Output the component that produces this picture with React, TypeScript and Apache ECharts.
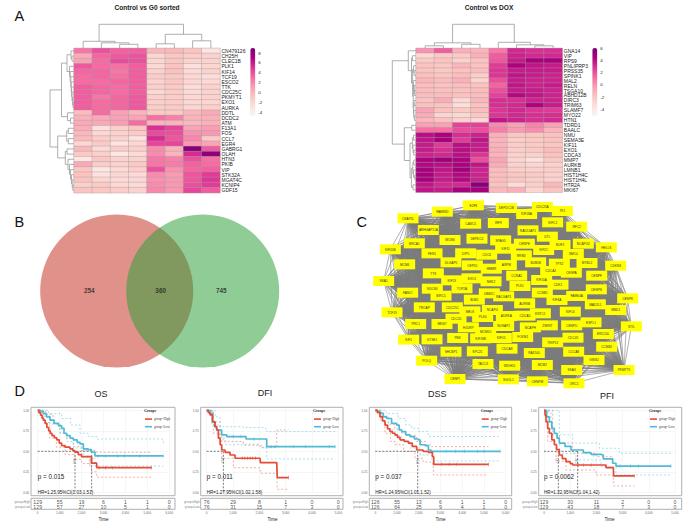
import React, { useEffect, useRef } from "react";
import * as echarts from "echarts";

const SANS = "Liberation Sans";
const SERIF = "Liberation Serif";
const RdPu = ["#FFF7F3", "#FDE0DD", "#FCC5C0", "#FA9FB5", "#F768A1", "#DD3497", "#AE017E", "#7A0177"];

const heat1Genes = ["CN479126","CH25H","CLEC1B","PLK1","KIF14","TCF19","ESCO2","TTK","CDC25C","PKMYT1","EXO1","AURKA","DDTL","DCDC2","ATM","F13A1","FOS","CCL7","EGR4","GABRG1","OLAH","HTN3","PKIB","VIP","STK32A","MGAT4C","KCNIP4","GDF15"];
const heat1Values = [
  [2.6,4,3.4,3.4,-0.2,-0.2,-0.8,-3.2],
  [0.5,3.2,3.7,3.9,-2,-1,-1.4,-1.8],
  [1,3,4.2,4,-2,-1,-1.8,-1.8],
  [3.7,3,2.8,3.5,-2.3,-0.8,-2.8,-2],
  [3.2,3.2,2.6,3.5,-1.8,-0.6,-2.4,-1.8],
  [3,3.2,2.8,3.5,-1.4,-1.2,-2.2,-2.6],
  [3,3,3.2,3.5,-1.8,-1,-2.2,-2.4],
  [3.5,3.2,3,3.5,-1.6,-1.2,-2.6,-1.8],
  [3.5,3.2,3,3.5,-2.2,-1.4,-2.4,-1.8],
  [3.5,2.6,3.2,3.7,-1.6,-1.4,-2.2,-1.8],
  [3.5,3,3.2,3.7,-1.6,-1.4,-2.2,-2],
  [3.5,3,3.2,3.7,-1.4,-1.2,-2,-1.6],
  [-0.4,3,1,0,-1.2,-1.2,-0.2,0.6],
  [0.2,0.6,1,0.8,2.8,2.2,0,0.2],
  [0.6,0.6,1.2,3,0,0,-0.2,0.2],
  [0.4,-2.8,-1.6,-0.8,5.2,4.4,0.8,1.2],
  [-0.2,-2.2,-1.8,-1.2,4.2,4,1.6,1.4],
  [-0.4,-1.4,-1.8,-3,5.4,3.8,2,-1.2],
  [-2.2,-1.2,-3,-2,4.4,4.4,1.4,0.8],
  [-0.2,-2.4,-1.4,-1.6,1.8,0.2,8.6,3.6],
  [-1.2,-1.6,-3.4,-2.4,1.8,0,5.4,8.4],
  [-3.4,-1,-1.8,-1.8,2.6,2.2,4,2.8],
  [0.6,-1.4,-1.8,-1.2,2.6,2.4,3.4,3],
  [-1,-3.4,-2.4,-1.6,4,1.6,3.2,3.4],
  [-0.8,-3,-2.2,-2.4,1.8,1.2,3.8,4.8],
  [-0.8,-2,-2.4,-2.2,1.6,1.4,3.8,5],
  [-1.6,-1.2,-2.2,-2.4,1.8,1.4,4,4.8],
  [-0.8,-1,-1.4,-1.8,2,1.4,4.4,3.6],
];
const heat2Genes = ["GNA14","VIP","RPS9","PNLIPRP3","PRSS35","SPINK1","MAL2","RELN","TSGA10","ABHD12B","DIRC3","TRIM63","SLAMF7","MYO22","HTN1","TDRD1","BAALC","NMU","SEMA3E","KIF11","EXO1","CDCA3","MMP7","AURKB","LMNB1","HIST1H4C","HIST1H4L","HTR2A","MKI67"];
const heat2Values = [
  [0,1.6,-1,-1.2,0.8,3.2,3,3],
  [-3,-2.2,-2.2,-1,1.6,3.4,3.2,3.2],
  [-2.2,-1.9,-2.6,-1.8,1.8,3.6,4.6,4.6],
  [-1.9,-2,-1.2,-1.8,2.6,4.4,3.8,3.6],
  [-1.9,-2.2,-1.8,-1.6,2.8,3.6,3.6,3.6],
  [-1.7,-2,-1.6,-2.4,2.8,3.8,3.6,3.4],
  [-1.3,-1.6,-1,-2.8,2,3.6,3.4,3.4],
  [-1.6,-1.8,-1.6,-1.8,1.4,3.8,3.4,3.6],
  [-1.6,-1.7,-1.8,-1.6,2,3.6,3.6,3.4],
  [-1.6,-1.6,-1.8,-1.6,2.4,4.2,3.8,3.4],
  [-1.9,-0.9,-3,-1.4,3,3,3.4,3.4],
  [-1.8,-1.9,-3.4,-1.8,3,3.2,4.4,3.6],
  [-0.6,-1.8,-2.2,-1.6,2.8,3.2,2.8,2.6],
  [-0.8,-2.8,-3,-2,2.8,3.2,3,3],
  [-1.4,-1.8,-2.6,-3,3.8,3.4,3,3.2],
  [-0.4,-0.4,2.4,2.4,0.3,-0.4,0.5,-0.4],
  [1,1,2,2,0.6,-0.2,0.2,-1.2],
  [4,4.4,3,3.4,-1,-2,-2,-1.8],
  [3.8,4.6,2.6,3.8,-1.2,-2.4,-2.2,-1.8],
  [3.6,2.6,4,3.6,-1.2,-2.4,-2.2,-2],
  [3.6,3,4,3.6,-1,-2.4,-2.2,-1.6],
  [3.4,3.2,4,2.8,-1.2,-2.6,-2.6,-1.8],
  [4.4,5,4.4,2,-0.6,-2.8,-3.6,-2.2],
  [4.2,4,4.4,3.8,-0.8,-2.6,-2.8,-2.6],
  [4.6,3.8,4.8,3.4,-1.6,-2.4,-2.6,-2.4],
  [4.6,3.6,4.2,3.4,-1.6,-2,-2.2,-2.6],
  [4.6,3.6,4.2,3.4,-1.6,-2,-2.4,-2.6],
  [3.8,3.2,3.2,5.6,-1.8,-3.2,-2.4,-1.4],
  [3.8,3.6,4.6,4.6,-1.4,-1,-2.8,-1.8],
];
// dendrograms: [height, left, right], a bare number is a leaf
const heat1ColTree: any = [24,[7,0,[5.5,1,[4,2,3]]],[14,[4.5,4,5],[7.5,6,7]]];
const heat1RowTree: any = [24,
  [12.5,[7,[3,0,[2,1,2]],[4.5,3,[3.8,4,[3.2,5,[2.8,6,[2.4,7,[2,8,[1.4,9,[1,10,11]]]]]]]]],[6.5,12,[3.5,13,14]]],
  [16.3,[7.3,[5.7,15,16],[5.7,17,18]],[8.7,[7,19,20],[6,21,[4.5,22,[3.5,23,[2.5,24,[1.8,25,[1.2,26,27]]]]]]]]];
const heat2ColTree: any = [24,[5.5,[2.5,0,1],[4,2,3]],[6,4,[3.5,5,[2.5,6,7]]]];
const heat2RowTree: any = [23.7,
  [7.7,0,[4.5,[3.6,1,2],[3.4,[2.4,3,[1.8,4,5]],[3,[2.4,6,[1.8,7,[1.4,8,9]]],[2.6,[2,10,11],[2.2,12,[1.6,13,14]]]]]]],
  [11.7,[4.3,15,16],[6,[3.6,[2.4,17,18],[3,19,[2.2,20,21]]],[4.6,[3.2,[2.2,22,23],[2.4,24,[1.2,25,26]]],[3,27,28]]]]];

const vennCounts = ["254", "360", "745"];

const networkNodes: [string, number, number][] = [
  ["E2F8",385,46],["DEPDC1B",484,54],["CDC25A",592,51],["TK1",652,63],["KIF18A",545,72],["FAM83D",292,65],["CKAP2L",189,85],["CASC5",377,101],["IRF9",460,99],["KIFC1",623,97],["RFC2",695,110],["RAD51AP1",549,121],["ARHGAP11A",250,120],["DTL",607,140],["SPAG5",467,151],["DEPDC1",396,146],["MCM6",315,150],["BRCA1",208,160],["CENPE",538,161],["NUF2",645,165],["NCAPG2",715,161],["HELLS",784,172],["KIF20B",136,178],["KIF11",482,176],["KIF2C",596,180],["FEN1",261,190],["DIP5",362,190],["CDC6",425,194],["SMC4",685,192],["RRM2",529,196],["DLGAP5",318,217],["BUB1B",572,217],["MCM4",179,223],["TPX2",643,221],["MYBL2",726,219],["CEP55",382,226],["ASPM",484,225],["CDKN3",812,227],["HMMR",439,236],["CDCA2",617,243],["CENPA",679,248],["TTK",265,250],["CCNA2",515,257],["CENPF",755,257],["EXO1",381,265],["KIF23",320,271],["SKA1",116,273],["NEK2",438,274],["KIF20A",590,270],["CDK1",639,284],["PLK1",525,288],["TOP2A",351,295],["NDC80",262,296],["CENPN",754,298],["CCNB1",592,308],["FANCI",188,308],["UBE2C",433,310],["BIRC5",288,317],["FAM64A",695,318],["RACGAP1",476,319],["CENPK",848,325],["KIF4A",636,330],["BUB1",388,329],["MAD2L1",751,343],["AURKB",539,340],["TROAP",238,352],["CDC25C",322,352],["NCAPG",442,360],["MND1",812,360],["MELK",375,364],["TCF19",141,367],["KIF14",676,365],["KNTC1",586,370],["PLK4",413,381],["AURKA",484,378],["CDCA5",540,377],["CDC20",333,386],["ESPL1",738,397],["PRC1",212,402],["MKI67",291,402],["CENPU",680,406],["STIL",859,409],["ZWINT",607,406],["NUSAP1",476,408],["NCAPH",556,412],["HJURP",370,412],["MCM10",422,426],["ERCC6L",775,432],["FOXM1",533,441],["KIF15",469,444],["KIF18B",407,445],["PBK",338,444],["GTSE1",261,448],["KIF2",191,449],["CDC45",684,443],["TRIP13",623,457],["CCNB2",785,470],["CDCA8",486,476],["SHCBP1",318,485],["SPC25",397,484],["RAD54L",568,489],["CCCA8",686,485],["GINS2",747,510],["POLQ",245,512],["TACC3",414,522],["WDHD1",494,527],["MCM2",592,525],["SKA3",680,540],["PKMYT1",837,540],["CENPI",330,567],["SGOL1",490,568],["CENPM",577,574],["ORC1",687,580],
];

const osHigh = [[0,1],[60,.97],[130,.94],[200,.905],[260,.88],[340,.84],[420,.79],[500,.75],[570,.72],[650,.69],[760,.665],[870,.64],[980,.6],[1090,.57],[1250,.55],[1470,.53],[1600,.51],[1700,.49],[1850,.46],[2000,.435],[2380,.435],[2460,.355],[2690,.3],[5190,.3]];
const osLow = [[0,1],[130,.985],[258,.96],[400,.92],[562,.88],[750,.84],[950,.81],[1093,.78],[1200,.72],[1321,.69],[1480,.66],[1625,.64],[1800,.61],[1929,.59],[2080,.53],[2300,.52],[2450,.49],[2612,.443],[5725,.443]];
const osHighUp = [[0,1],[350,.95],[700,.84],[1017,.72],[1300,.66],[1625,.557],[2005,.51],[2688,.488],[5194,.488]];
const osHighLo = [[0,.97],[250,.85],[550,.66],[850,.55],[1250,.46],[1700,.4],[2005,.35],[2384,.3],[2460,.25],[2688,.183],[5194,.183]];
const osLowUp = [[0,1],[500,.96],[1093,.9],[1500,.82],[1929,.72],[2300,.68],[2700,.65],[5725,.6]];
const osLowLo = [[0,1],[260,.93],[560,.83],[1017,.72],[1321,.62],[1625,.54],[2080,.42],[2612,.32],[5725,.313]];
const osHighCensor = [[2800,.3],[3100,.3],[3400,.3],[5190,.3]];
const osLowCensor = [[2750,.443],[3100,.443],[3650,.443],[3950,.443],[4650,.443],[5725,.443]];
const osMedians = [1700, 2460];
const osRiskHigh = [129,55,19,6,1,1,0];
const osRiskLow = [129,57,27,10,5,1,0];

const dfiHigh = [[0,1],[60,.97],[127,.943],[215,.86],[317,.8],[380,.76],[444,.66],[510,.58],[570,.516],[697,.488],[887,.455],[1077,.415],[2028,.415],[2040,.362],[2662,.362],[2680,.18],[3105,.18]];
const dfiLow = [[0,1],[127,.963],[228,.862],[300,.8],[380,.76],[570,.7],[760,.68],[1457,.68],[1495,.65],[2155,.65],[2281,.557],[4880,.557]];
const dfiHighUp = [[0,1],[253,.86],[507,.66],[697,.62],[1394,.585],[2028,.545],[2662,.545],[2662,.76],[3105,.76]];
const dfiHighLo = [[0,.99],[253,.72],[570,.415],[1014,.3],[2028,.293],[2040,.232],[2662,.232],[2680,.037],[3105,.037]];
const dfiLowUp = [[0,1],[317,.92],[507,.8],[1394,.79],[2218,.78],[2281,.74],[4880,.74]];
const dfiLowLo = [[0,.99],[190,.82],[507,.64],[697,.58],[1457,.57],[2155,.537],[2281,.407],[4880,.4]];
const dfiHighCensor = [[1350,.415],[1450,.415],[1550,.415],[1650,.415],[1750,.415],[1850,.415],[3105,.18]];
const dfiLowCensor = [[1000,.68],[1300,.68],[1800,.65],[2450,.557],[2600,.557],[3300,.557],[3750,.557],[4660,.557],[4880,.557]];
const dfiMedians = [634];
const dfiRiskHigh = [76,29,8,1,0,0];
const dfiRiskLow = [76,31,15,7,3,0];

const dssHigh = [[0,1],[100,.97],[215,.92],[330,.87],[445,.82],[560,.775],[676,.74],[790,.72],[906,.7],[1020,.67],[1137,.64],[1330,.62],[1521,.6],[1700,.56],[1905,.516],[2200,.5],[2442,.488],[2627,.435],[2688,.341],[5207,.341]];
const dssLow = [[0,1],[100,.985],[215,.963],[370,.92],[522,.9],[750,.84],[983,.82],[1100,.76],[1214,.74],[1400,.7],[1598,.68],[1800,.65],[1982,.64],[2058,.58],[2289,.57],[2442,.516],[2550,.5],[5745,.5]];
const dssHighUp = [[0,1],[300,.93],[600,.83],[900,.77],[1214,.72],[1500,.69],[1905,.62],[2300,.58],[2596,.557],[5207,.557]];
const dssHighLo = [[0,.98],[250,.88],[445,.72],[700,.62],[906,.58],[1300,.5],[1828,.415],[2200,.37],[2627,.33],[2673,.211],[5207,.211]];
const dssLowUp = [[0,1],[500,.96],[1060,.9],[1400,.82],[1674,.78],[2000,.74],[2442,.68],[5668,.68]];
const dssLowLo = [[0,1],[300,.92],[600,.76],[900,.69],[1214,.62],[1600,.54],[2058,.455],[2596,.382],[5745,.374]];
const dssHighCensor = [[3050,.341],[3400,.341],[3750,.341],[5207,.341]];
const dssLowCensor = [[2600,.5],[3250,.5],[3700,.5],[4100,.5],[4700,.5],[5000,.5],[5745,.5]];
const dssMedians = [1951];
const dssRiskHigh = [126,55,13,6,1,1,0];
const dssRiskLow = [126,64,25,9,4,1,0];

const pfiHigh = [[0,1],[40,.94],[76,.86],[140,.78],[204,.72],[300,.64],[394,.58],[480,.52],[585,.455],[700,.41],[840,.374],[1000,.35],[1094,.333],[1985,.333],[2366,.3],[2646,.293],[2659,.2],[3448,.2]];
const pfiLow = [[0,1],[100,.92],[204,.86],[300,.78],[394,.72],[500,.66],[585,.6],[800,.56],[1031,.516],[1500,.483],[1794,.463],[2176,.455],[2265,.407],[2621,.354],[2748,.32],[4847,.32]];
const pfiHighUp = [[0,1],[331,.7],[585,.6],[1094,.476],[1985,.435],[2621,.415],[2646,.415]];
const pfiHighLo = [[0,.99],[140,.62],[458,.38],[840,.272],[1985,.211],[2621,.19],[2659,.077],[3448,.077]];
const pfiLowUp = [[0,1],[585,.7],[1094,.6],[2112,.537],[2875,.476],[4847,.483]];
const pfiLowLo = [[0,.99],[267,.7],[585,.476],[1221,.394],[2176,.313],[2748,.211],[4847,.2]];
const pfiHighCensor = [[1300,.333],[1500,.333],[1800,.333],[3448,.2]];
const pfiLowCensor = [[1900,.455],[2900,.32],[3300,.32],[3600,.32],[4847,.32]];
const pfiMedians = [547, 1285];
const pfiRiskHigh = [129,30,11,2,0,0];
const pfiRiskLow = [129,43,18,7,3,0];

const riskGroups = ["group=High", "group=Low"];

const kmPanels = [
  { title:"OS", p:"p = 0.015", hr:"HR=1.25,95%CI(1.03,1.51)", high:osHigh, low:osLow, highUp:osHighUp, highLo:osHighLo, lowUp:osLowUp, lowLo:osLowLo, highC:osHighCensor, lowC:osLowCensor, med:osMedians, rh:osRiskHigh, rl:osRiskLow, maxT:6000,
    box:[31,175], x0:37.7, x1:169.3, titleX:101, titleY:394, legendX:145 },
  { title:"DFI", p:"p = 0.011", hr:"HR=1.27,95%CI(1.02,1.58)", high:dfiHigh, low:dfiLow, highUp:dfiHighUp, highLo:dfiHighLo, lowUp:dfiLowUp, lowLo:dfiLowLo, highC:dfiHighCensor, lowC:dfiLowCensor, med:dfiMedians, rh:dfiRiskHigh, rl:dfiRiskLow, maxT:5000,
    box:[200.7,343], x0:206.7, x1:338.3, titleX:265, titleY:393, legendX:314 },
  { title:"DSS", p:"p = 0.037", hr:"HR=1.24,95%CI(1.01,1.52)", high:dssHigh, low:dssLow, highUp:dssHighUp, highLo:dssHighLo, lowUp:dssLowUp, lowLo:dssLowLo, highC:dssHighCensor, lowC:dssLowCensor, med:dssMedians, rh:dssRiskHigh, rl:dssRiskLow, maxT:6000,
    box:[369.3,511.7], x0:375.3, x1:505.7, titleX:437.3, titleY:394, legendX:481.7 },
  { title:"PFI", p:"p = 0.0062", hr:"HR=1.22,95%CI(1.04,1.42)", high:pfiHigh, low:pfiLow, highUp:pfiHighUp, highLo:pfiHighLo, lowUp:pfiLowUp, lowLo:pfiLowLo, highC:pfiHighCensor, lowC:pfiLowCensor, med:pfiMedians, rh:pfiRiskHigh, rl:pfiRiskLow, maxT:5000,
    box:[538.7,681.7], x0:544, x1:675, titleX:607, titleY:395.5, legendX:650 },
];

const HIGH = "#E64B35";
const LOW = "#4DBBD5";
const HIGH_CI = "#F08C7C";
const LOW_CI = "#86D2E5";

function treeSegments(tree: any, horizontal: boolean) {
  const out: any[] = [];
  const walk = (n: any): [number, number] => {
    if (typeof n === "number") return [n + 0.5, 0];
    const [h, l, r] = n;
    const [pl, hl] = walk(l);
    const [pr, hr] = walk(r);
    const pts = [[pl, hl], [pl, h], [pr, h], [pr, hr]];
    pts.forEach((p) => out.push(horizontal ? [p[1], p[0]] : p));
    out.push([NaN, NaN]);
    return [(pl + pr) / 2, h];
  };
  walk(tree);
  return out;
}

function buildOption() {
  const grid: any[] = [], xAxis: any[] = [], yAxis: any[] = [], series: any[] = [];
  const visualMap: any[] = [], legend: any[] = [], graphic: any[] = [];
  const addGrid = (g: any, x: any, y: any) => {
    grid.push(g);
    const i = grid.length - 1;
    xAxis.push({ gridIndex: i, ...x });
    yAxis.push({ gridIndex: i, ...y });
    return i;
  };
  const text = (t: string, x: number, y: number, fontSize: number, o: any = {}) =>
    graphic.push({ type: "text", x, y, silent: true, z: 50, style: { text: t, fontSize, fontFamily: SANS, fill: "#111", textAlign: "left", textVerticalAlign: "middle", ...o } });
  const hidden = { show: false };

  const heatmap = (genes: string[], values: number[][], colTree: any, rowTree: any, L: any) => {
    const g = addGrid({ left: L.left, top: L.top, width: L.width, height: L.height },
      { type: "category", data: [0,1,2,3,4,5,6,7].map(String), show: false },
      { type: "category", data: genes, inverse: true, position: "right",
        axisLine: hidden, axisTick: hidden,
        axisLabel: { fontSize: 5, interval: 0, margin: 1.5, color: "#222", fontFamily: SANS } });
    const data: any[] = [];
    values.forEach((row, r) => row.forEach((v, c) => data.push([c, r, v])));
    series.push({ type: "heatmap", xAxisIndex: g, yAxisIndex: g, data,
      itemStyle: { borderColor: "#a0a0a0", borderWidth: 0.4 } });
    visualMap.push({ type: "continuous", seriesIndex: series.length - 1, min: L.cMin, max: L.cMax,
      left: L.barLeft, top: L.top - 0.3, itemWidth: 5, itemHeight: 68, padding: 0, calculable: false, showLabel: false, text: ["", ""],
      textStyle: { fontSize: 1 }, inRange: { color: RdPu } });
    const dendro = { type: "line", symbol: "none", silent: true, connectNulls: false, clip: false, lineStyle: { color: "#9a9a9a", width: 0.8 } };
    const c = addGrid({ left: L.left, top: L.top - 26, width: L.width, height: 26 },
      { type: "value", min: 0, max: 8, show: false }, { type: "value", min: 0, max: 26, show: false });
    series.push({ ...dendro, xAxisIndex: c, yAxisIndex: c, data: treeSegments(colTree, false) });
    const rg = addGrid({ left: L.left - 26, top: L.top, width: 26, height: L.height },
      { type: "value", min: 0, max: 26, inverse: true, show: false },
      { type: "value", min: 0, max: genes.length, inverse: true, show: false });
    series.push({ ...dendro, xAxisIndex: rg, yAxisIndex: rg, data: treeSegments(rowTree, true) });
    addGrid({ left: L.barLeft + 5, top: L.tickTop, width: 1, height: L.tickHeight },
      { type: "value", min: 0, max: 1, show: false },
      { type: "value", min: L.tickMin, max: L.tickMax, interval: 2, position: "right",
        axisLine: hidden, axisTick: hidden, splitLine: hidden,
        axisLabel: { fontSize: 4.4, margin: 2, color: "#222", fontFamily: SANS } });
  };

  heatmap(heat1Genes, heat1Values, heat1ColTree, heat1RowTree,
    { left: 74, top: 48.3, width: 146, height: 144.5, barLeft: 250.3, cMin: -4.8, cMax: 9, tickTop: 53, tickHeight: 59, tickMin: -4, tickMax: 8 });
  heatmap(heat2Genes, heat2Values, heat2ColTree, heat2RowTree,
    { left: 416, top: 48.3, width: 146.3, height: 144, barLeft: 592.3, cMin: -5.1, cMax: 6, tickTop: 48.3, tickHeight: 61, tickMin: -4, tickMax: 6 });

  // Venn
  const v = addGrid({ left: 30, top: 200, width: 260, height: 180 },
    { type: "value", min: 0, max: 260, show: false },
    { type: "value", min: 0, max: 180, inverse: true, show: false });
  series.push({ type: "scatter", xAxisIndex: v, yAxisIndex: v, silent: true, data: [[86.7, 91]], symbolSize: 153,
    itemStyle: { color: "#E0928A", opacity: 1 } });
  series.push({ type: "scatter", xAxisIndex: v, yAxisIndex: v, silent: true, data: [[172.7, 91]], symbolSize: 153,
    itemStyle: { color: "#2A9D35", opacity: 0.52 } });
  series.push({ type: "scatter", xAxisIndex: v, yAxisIndex: v, silent: true, symbolSize: 0, z: 5,
    data: [[59.3, 90, vennCounts[0]], [130.7, 90, vennCounts[1]], [191.3, 90, vennCounts[2]]],
    label: { show: true, position: "inside", formatter: (p: any) => p.value[2], fontSize: 6.4, fontWeight: "bold", color: "#222", fontFamily: SANS } });

  // Network
  const n = addGrid({ left: 345, top: 190, width: 346, height: 200 },
    { type: "value", min: 0, max: 1038, show: false },
    { type: "value", min: 0, max: 600, inverse: true, show: false });
  const links: any[] = [];
  networkNodes.forEach((_, i) => { for (let j = i + 1; j < networkNodes.length; j++) links.push({ source: i, target: j }); });
  series.push({ type: "graph", coordinateSystem: "cartesian2d", xAxisIndex: n, yAxisIndex: n, silent: true,
    data: networkNodes.map(([name, x, y]) => ({ name, value: [x, y] })), links,
    symbol: "rect", symbolSize: [21, 10], itemStyle: { color: "#FFFF00", opacity: 1 },
    lineStyle: { color: "#7c7c7c", width: 0.6, opacity: 1 },
    label: { show: true, position: "inside", formatter: "{b}", fontSize: 3.2, color: "#333", fontFamily: SANS } });

  // KM panels
  const TOP = 410.3, H = 82, TBL = 499, TBLH = 10;
  kmPanels.forEach((P) => {
    const width = P.x1 - P.x0;
    const tickLabel = { fontSize: 3, color: "#666", fontFamily: SANS };
    const g = addGrid({ left: P.x0, top: TOP, width, height: H },
      { type: "value", min: 0, max: P.maxT, interval: 1000, axisLine: hidden, axisTick: hidden, axisLabel: hidden,
        splitLine: { lineStyle: { color: "#ececec", width: 0.5 } } },
      { type: "value", min: 0, max: 1, interval: 0.25, axisLine: hidden, axisTick: hidden,
        axisLabel: { ...tickLabel, margin: P.x0 - P.box[0] + 2, formatter: (x: number) => x.toFixed(2) },
        splitLine: { lineStyle: { color: "#ececec", width: 0.5 } } });
    const base = { type: "line", xAxisIndex: g, yAxisIndex: g, symbol: "none", silent: true, clip: false, step: "end" };
    const ci = (data: any, color: string) => ({ ...base, name: "ci", data, lineStyle: { color, width: 0.7, type: [2, 2] } });
    series.push(ci(P.highUp, HIGH_CI), ci(P.highLo, HIGH_CI), ci(P.lowUp, LOW_CI), ci(P.lowLo, LOW_CI));
    const guide: any[] = [];
    const last = P.med[P.med.length - 1];
    guide.push([0, 0.5], [last, 0.5], [NaN, NaN]);
    P.med.forEach((t) => guide.push([t, 0.5], [t, 0], [NaN, NaN]));
    series.push({ type: "line", xAxisIndex: g, yAxisIndex: g, symbol: "none", silent: true, name: "median", data: guide, connectNulls: false,
      lineStyle: { color: "#444", width: 0.7, type: [2, 1.5] } });
    series.push({ type: "scatter", xAxisIndex: g, yAxisIndex: g, symbolSize: 0, silent: true, name: "medianText",
      data: P.med.map((t) => [t, 0.42]),
      label: { show: true, rotate: 90, position: "left", distance: 0.5, fontSize: 3, color: "#555", fontFamily: SANS, formatter: (p: any) => String(p.value[0]) } });
    series.push({ ...base, name: riskGroups[1], data: P.low, itemStyle: { color: LOW }, lineStyle: { color: LOW, width: 1.7 } });
    series.push({ ...base, name: riskGroups[0], data: P.high, itemStyle: { color: HIGH }, lineStyle: { color: HIGH, width: 1.7 } });
    const mark = (data: any, color: string) => ({ type: "scatter", name: "censor", xAxisIndex: g, yAxisIndex: g, silent: true, data, symbol: "rect", symbolSize: [0.7, 3.4], itemStyle: { color } });
    series.push(mark(P.lowC, LOW), mark(P.highC, HIGH));
    legend.push({ data: riskGroups, selectedMode: false, orient: "vertical", left: P.legendX, top: 417.6, padding: 0, itemGap: 4.6, itemWidth: 7, itemHeight: 1.6, icon: "rect",
      textStyle: { fontSize: 3.3, fontFamily: SERIF, color: "#333", padding: [0, 0, 0, -3] } });

    const ticks: number[] = [];
    for (let t = 0; t <= P.maxT; t += 1000) ticks.push(t);
    const t = addGrid({ left: P.x0, top: TBL, width, height: TBLH },
      { type: "value", min: 0, max: P.maxT, interval: 1000, name: "Time", nameLocation: "middle", nameGap: 8.3,
        nameTextStyle: { fontSize: 4.6, color: "#222", fontFamily: SANS },
        axisLine: hidden, axisTick: hidden, splitLine: hidden, axisLabel: { ...tickLabel, margin: 1.7 } },
      { type: "category", data: riskGroups, inverse: true, axisLine: hidden, axisTick: hidden,
        axisLabel: { ...tickLabel, color: "#888", interval: 0, margin: P.x0 - P.box[0] + 1 } });
    const row = (vals: number[], r: number) => ({ type: "scatter", name: "risk", xAxisIndex: t, yAxisIndex: t, silent: true, symbolSize: 0, clip: false,
      data: vals.map((c, i) => [ticks[i], r, c]),
      label: { show: true, position: "inside", fontSize: 5.2, color: "#222", fontFamily: SANS, formatter: (p: any) => String(p.value[2]) } });
    series.push(row(P.rh, 0), row(P.rl, 1));

    const border = { fill: "none", stroke: "#b0b0b0", lineWidth: 1 };
    graphic.push({ type: "rect", silent: true, z: 40, shape: { x: P.box[0], y: 407.3, width: P.box[1] - P.box[0], height: 88.4 }, style: border });
    graphic.push({ type: "rect", silent: true, z: 40, shape: { x: P.box[0], y: 498.3, width: P.box[1] - P.box[0], height: 11 }, style: border });
    text(P.title, P.titleX, P.titleY, 9, { textAlign: "center", fill: "#222" });
    text(P.p, P.x0, 476.7, 6.3, { fill: "#222" });
    text(P.hr, P.x0, 492, 4.6, { fill: "#222" });
    text("Groups", P.legendX - 1, 411, 3.8, { fontFamily: SERIF, fontWeight: "bold", fill: "#333" });
  });

  text("A", 14.5, 15.5, 14.5);
  text("B", 14.5, 222, 14.5);
  text("C", 356.5, 222, 14.5);
  text("D", 14.5, 391, 14.5);
  text("Control vs G0 sorted", 147, 7.3, 6.6, { textAlign: "center", fontWeight: "bold", fill: "#222" });
  text("Control vs DOX", 489, 7.3, 6.6, { textAlign: "center", fontWeight: "bold", fill: "#222" });

  return { animation: false, backgroundColor: "#fff", grid, xAxis, yAxis, series, visualMap, legend, graphic, tooltip: { show: false } };
}

export default function App() {
  const ref = useRef<HTMLDivElement>(null);
  useEffect(() => {
    const chart = echarts.init(ref.current as HTMLDivElement, undefined, { renderer: "svg" });
    chart.setOption(buildOption() as any);
    return () => chart.dispose();
  }, []);
  return <div ref={ref} style={{ position: "absolute", left: 0, top: 0, width: 691, height: 530 }} />;
}
